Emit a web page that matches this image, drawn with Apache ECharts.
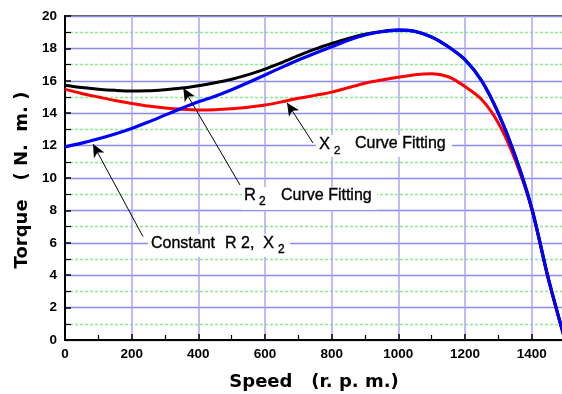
<!DOCTYPE html>
<html><head><meta charset="utf-8">
<script src="https://cdn.jsdelivr.net/npm/echarts@6/dist/echarts.min.js"></script>
<style>html,body{margin:0;padding:0;background:#fff}#c{width:562px;height:394px}</style>
</head><body><div id="c"></div>
<script>
// Speed (r.p.m.)
const speed = [0,50,100,150,200,250,300,350,400,450,500,550,600,650,700,750,800,850,900,950,1000,1050,1100,1150,1200,1250,1300,1350,1400,1450,1500];
// Torque (N.m.) - R2 curve fitting (black)
const torqueR2Fit = [15.72,15.58,15.48,15.41,15.37,15.38,15.45,15.55,15.7,15.88,16.1,16.38,16.72,17.12,17.55,17.95,18.3,18.62,18.88,19.05,19.13,19.05,18.7,18.1,17.3,16.0,14.0,11.4,8.15,3.8,0];
// Torque - constant R2, X2 (blue)
const torqueConst = [11.92,12.15,12.42,12.72,13.06,13.45,13.88,14.3,14.7,15.05,15.45,15.9,16.36,16.83,17.28,17.7,18.1,18.5,18.83,19.03,19.13,19.05,18.7,18.1,17.3,16.0,14.0,11.4,8.15,3.8,0];
// Torque - X2 curve fitting (red)
const torqueX2Fit = [15.47,15.22,15.0,14.78,14.6,14.44,14.32,14.24,14.2,14.22,14.28,14.37,14.5,14.7,14.92,15.1,15.3,15.58,15.85,16.05,16.22,16.38,16.44,16.25,15.65,14.85,13.4,11.15,8.1,3.75,0];

const xTickLabels = [0,200,400,600,800,1000,1200,1400];
const xAxisName = 'Speed   (r. p. m.)';
const yAxisName = 'Torque   ( N.  m. )';

// annotation arrows: [tail, tip] in data coords
const arrowConst = [[234, 6.38], [84, 12.1]];
const arrowR2 = [[525, 9.57], [355, 15.55]];
const arrowX2 = [[744, 12.16], [666, 14.65]];

function pairs(ys){ return speed.map((s,i)=>[s, ys[i]]); }

const chart = echarts.init(document.getElementById('c'), null, {renderer:'canvas'});
const FONT = 'Liberation Sans, Arial, sans-serif';
const lab = {fontFamily:FONT, fontWeight:'bold', fontSize:13.5, color:'#000'};
function arrowLine(a){ return [{coord:a[0], symbol:'none'}, {coord:a[1], symbol:'arrow'}]; }
function txt(x, yMid, s, size){
  return {type:'text', x:x, y:yMid, z:51, style:{text:s, fontFamily:FONT, fontSize:size, fill:'#000', verticalAlign:'middle', stroke:'#000', lineWidth:0.35}};
}
function box(x, y, w, h){
  return {type:'rect', z:50, shape:{x:x, y:y, width:w, height:h}, style:{fill:'#fff'}};
}
chart.setOption({
  animation:false,
  backgroundColor:'#fff',
  grid:{left:65, top:16, width:500, height:324, containLabel:false, outerBoundsMode:'none', show:true, borderColor:'#555', borderWidth:2, backgroundColor:'transparent'},
  xAxis:{type:'value', min:0, max:1500, interval:200,
    axisLine:{show:true, onZero:false, lineStyle:{color:'#000', width:2}},
    axisTick:{show:true, inside:true, length:6, lineStyle:{color:'#000', width:1.5}},
    minorTick:{show:true, splitNumber:2, length:5, lineStyle:{color:'#000', width:1.2}},
    splitLine:{show:true, lineStyle:{color:'#a6a6ff', width:1.5}},
    axisLabel:Object.assign({margin:7, showMaxLabel:false, formatter:v=>xTickLabels.includes(v)?String(v):''}, lab)
  },
  yAxis:{type:'value', min:0, max:20, interval:2,
    axisLine:{show:true, onZero:false, lineStyle:{color:'#000', width:2}},
    axisTick:{show:true, inside:true, length:6, lineStyle:{color:'#000', width:1.5}},
    minorTick:{show:true, splitNumber:2, length:6, lineStyle:{color:'#000', width:1.2}},
    splitLine:{show:true, lineStyle:{color:'#8c8cf0', width:1.3}},
    minorSplitLine:{show:true, lineStyle:{color:'#8aec8a', width:1.3, type:[3,2]}},
    axisLabel:Object.assign({margin:8, formatter:v=>String(v)}, lab)
  },
  series:[
    {type:'line', name:'X2 Curve Fitting', data:pairs(torqueX2Fit), smooth:0.3, showSymbol:false, lineStyle:{color:'#ff0000', width:3}, z:3},
    {type:'line', name:'R2 Curve Fitting', data:pairs(torqueR2Fit), smooth:0.3, showSymbol:false, lineStyle:{color:'#000', width:3}, z:4},
    {type:'line', name:'Constant R2, X2', data:pairs(torqueConst), smooth:0.3, showSymbol:false, lineStyle:{color:'#0000ff', width:3.2}, z:5,
      markLine:{silent:true, symbolSize:[9,13], label:{show:false}, lineStyle:{color:'#000', width:1, type:'solid'},
        data:[arrowLine(arrowConst), arrowLine(arrowR2), arrowLine(arrowX2)]}
    }
  ],
  graphic:[
    box(316, 135, 136, 22),
    txt(319, 144, 'X', 16.5), txt(334, 150.5, '2', 11.5), txt(355, 144, 'Curve Fitting', 16),
    box(242, 187, 135, 23),
    txt(244, 195.5, 'R', 16.5), txt(259, 202, '2', 12), txt(281, 195.5, 'Curve Fitting', 16),
    box(148, 234, 142, 23),
    txt(151, 243.3, 'Constant', 16), txt(225, 243.3, 'R 2,', 16), txt(263, 243.3, 'X', 16.5), txt(278, 250, '2', 12),
    {type:'text', x:314, y:382, z:60, style:{text:xAxisName, fontFamily:'DejaVu Sans', fontWeight:'bold', fontSize:18, fill:'#000', align:'center', verticalAlign:'middle'}},
    {type:'text', x:22, y:180, rotation:Math.PI/2, z:60, style:{text:yAxisName, fontFamily:'DejaVu Sans', fontWeight:'bold', fontSize:18, fill:'#000', align:'center', verticalAlign:'middle'}}
  ]
});
</script></body></html>
